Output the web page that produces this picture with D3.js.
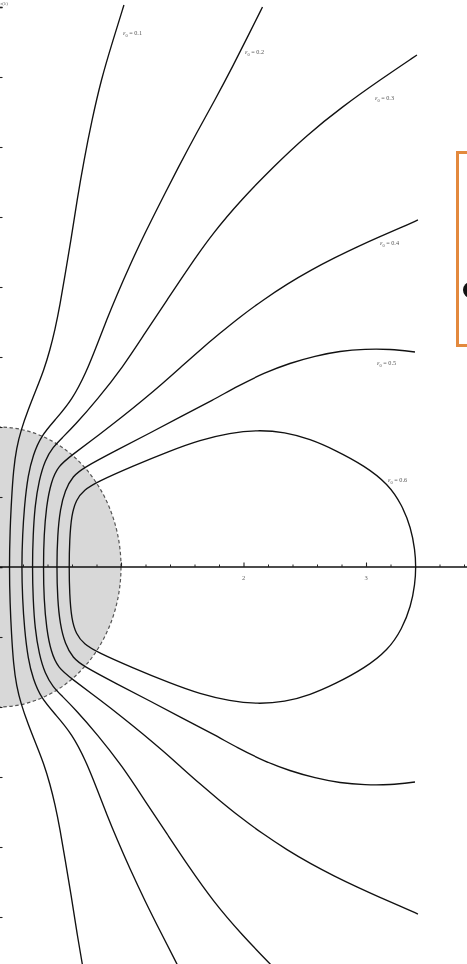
<!DOCTYPE html>
<html>
<head>
<meta charset="utf-8">
<script src="https://cdn.jsdelivr.net/npm/d3@7"></script>
<style>
  html, body { margin: 0; padding: 0; background: #fff; }
  svg { display: block; }
</style>
</head>
<body>
<div id="chart"></div>
<script>
// ---- data (data units) ----
const epsValues = ["0.1", "0.2", "0.3", "0.4", "0.5", "0.6"];

const curve01 = [[0.698,-2.907],[0.641,-2.621],[0.592,-2.336],[0.543,-2.086],[0.502,-1.871],[0.461,-1.693],[0.42,-1.55],[0.371,-1.407],[0.306,-1.264],[0.241,-1.121],[0.184,-0.979],[0.147,-0.85],[0.122,-0.693],[0.106,-0.479],[0.094,-0.264],
  [0.088,0],[0.094,0.264],[0.106,0.479],[0.122,0.693],[0.147,0.85],[0.184,0.979],[0.241,1.121],[0.306,1.264],[0.371,1.407],[0.42,1.55],[0.461,1.693],[0.502,1.871],[0.543,2.086],[0.592,2.336],[0.641,2.621],[0.698,2.907],[0.763,3.193],[0.837,3.479],[0.935,3.764],[1.024,4.014]];
const curve02 = [[1.465,-2.85],[1.331,-2.621],[1.196,-2.386],[1.073,-2.157],[0.966,-1.943],[0.882,-1.764],[0.804,-1.586],[0.714,-1.386],[0.6,-1.193],[0.469,-1.057],[0.347,-0.936],[0.282,-0.8],[0.241,-0.657],[0.212,-0.443],[0.196,-0.229],
  [0.189,0],[0.196,0.229],[0.212,0.443],[0.241,0.657],[0.282,0.8],[0.347,0.936],[0.469,1.057],[0.6,1.193],[0.714,1.386],[0.804,1.586],[0.882,1.764],[0.966,1.943],[1.073,2.157],[1.196,2.386],[1.331,2.621],[1.465,2.85],[1.612,3.093],[1.767,3.336],[1.914,3.579],[2.037,3.793],[2.155,4.0]];
const curve03 = [[2.241,-2.857],[1.98,-2.621],[1.751,-2.386],[1.555,-2.143],[1.376,-1.907],[1.196,-1.671],[1.016,-1.429],[0.804,-1.193],[0.624,-1.014],[0.518,-0.921],[0.445,-0.857],[0.38,-0.764],[0.331,-0.621],[0.298,-0.443],[0.282,-0.229],
  [0.276,0],[0.282,0.229],[0.298,0.443],[0.331,0.621],[0.38,0.764],[0.445,0.857],[0.518,0.921],[0.624,1.014],[0.804,1.193],[1.016,1.429],[1.196,1.671],[1.376,1.907],[1.555,2.143],[1.751,2.386],[1.98,2.621],[2.241,2.857],[2.518,3.086],[2.804,3.286],[3.114,3.479],[3.416,3.657]];
const curve04 = [[3.424,-2.479],[3.278,-2.421],[3.106,-2.357],[2.927,-2.286],[2.739,-2.207],[2.551,-2.121],[2.355,-2.021],[2.159,-1.907],[1.971,-1.786],[1.8,-1.664],[1.645,-1.55],[1.49,-1.429],[1.343,-1.314],[1.18,-1.193],[1.008,-1.071],[0.829,-0.95],[0.6,-0.8],[0.486,-0.721],[0.429,-0.607],[0.392,-0.443],[0.371,-0.229],
  [0.366,0],[0.371,0.229],[0.392,0.443],[0.429,0.607],[0.486,0.721],[0.6,0.8],[0.829,0.95],[1.008,1.071],[1.18,1.193],[1.343,1.314],[1.49,1.429],[1.645,1.55],[1.8,1.664],[1.971,1.786],[2.159,1.907],[2.355,2.021],[2.551,2.121],[2.739,2.207],[2.927,2.286],[3.106,2.357],[3.278,2.421],[3.424,2.479]];
const curve05 = [[3.4,-1.536],[3.196,-1.557],[2.992,-1.557],[2.788,-1.543],[2.584,-1.507],[2.38,-1.457],[2.167,-1.386],[1.955,-1.293],[1.751,-1.193],[1.498,-1.079],[1.237,-0.957],[0.967,-0.836],[0.69,-0.707],[0.608,-0.65],[0.543,-0.55],[0.502,-0.407],[0.482,-0.229],
  [0.475,0],[0.482,0.229],[0.502,0.407],[0.543,0.55],[0.608,0.65],[0.69,0.707],[0.967,0.836],[1.237,0.957],[1.498,1.079],[1.751,1.193],[1.955,1.293],[2.167,1.386],[2.38,1.457],[2.584,1.507],[2.788,1.543],[2.992,1.557],[3.196,1.557],[3.4,1.536]];
// closed loop (eps0 = 0.6)
const curve06 = [[3.408,0],[3.4,-0.121],[3.367,-0.279],[3.294,-0.443],[3.18,-0.593],[2.992,-0.721],[2.747,-0.836],[2.543,-0.914],[2.339,-0.964],[2.11,-0.979],[1.89,-0.957],[1.645,-0.907],[1.4,-0.829],[1.098,-0.721],[0.804,-0.607],[0.698,-0.55],[0.633,-0.479],[0.596,-0.371],[0.58,-0.193],
  [0.576,0],[0.58,0.193],[0.596,0.371],[0.633,0.479],[0.698,0.55],[0.804,0.607],[1.098,0.721],[1.4,0.829],[1.645,0.907],[1.89,0.957],[2.11,0.979],[2.339,0.964],[2.543,0.914],[2.747,0.836],[2.992,0.721],[3.18,0.593],[3.294,0.443],[3.367,0.279],[3.4,0.121]];
const openCurves = [curve01, curve02, curve03, curve04, curve05];
const closedCurves = [curve06];

// label anchors (data units)
const labelAnchors = [[1.016,3.80],[2.012,3.664],[3.073,3.336],[3.114,2.30],[3.09,1.443],[3.18,0.607]];

const xMajorTicks = [1, 2, 3];
const xMinorTicks = [0.2,0.4,0.6,0.8,1.2,1.4,1.6,1.8,2.2,2.4,2.6,2.8,3.2,3.4,3.6,3.8];
const xTickLabels = ["2", "3"];
const xTickLabelValues = [2, 3];
const yTicks = [-2.5,-2,-1.5,-1,-0.5,0.5,1,1.5,2,2.5,3,3.5,4];
const regionRadius = 1;

// ---- layout ----
const W = 467, H = 964;
const x = d3.scaleLinear().domain([0, 3.8]).range([-1.5, -1.5 + 3.8 * 122.5]);
const y = d3.scaleLinear().domain([0, 4]).range([567, 7]);

const svg = d3.select("#chart").append("svg")
  .attr("width", W).attr("height", H)
  .attr("viewBox", `0 0 ${W} ${H}`);
const defs = svg.append("defs");
defs.append("filter").attr("id", "gray")
  .append("feColorMatrix").attr("type", "saturate").attr("values", 0);
svg.append("rect").attr("width", W).attr("height", H).attr("fill", "#fff");

// shaded region (unit circle)
svg.append("ellipse")
  .attr("cx", x(0)).attr("cy", y(0))
  .attr("rx", x(regionRadius) - x(0)).attr("ry", y(0) - y(regionRadius))
  .attr("fill", "#d8d8d8")
  .attr("stroke", "#555")
  .attr("stroke-width", 1.2)
  .attr("stroke-dasharray", "3.5,2.5");

// x axis
const gx = svg.append("g").attr("transform", `translate(0,${y(0)})`);
gx.append("line").attr("x1", 0).attr("x2", W).attr("y1", 0).attr("y2", 0)
  .attr("stroke", "#111").attr("stroke-width", 1.4);
gx.call(g => {
  const minor = d3.axisTop(x).tickValues(xMinorTicks).tickSize(2.5).tickFormat("");
  const gm = g.append("g").call(minor);
  gm.select(".domain").remove();
  gm.selectAll("line").attr("stroke", "#222").attr("stroke-width", 1);
  const major = d3.axisTop(x).tickValues(xMajorTicks).tickSize(4.5).tickFormat("");
  const gM = g.append("g").call(major);
  gM.select(".domain").remove();
  gM.selectAll("line").attr("stroke", "#222").attr("stroke-width", 1.1);
});
const textLayer = svg.append("g").attr("filter", "url(#gray)");
textLayer.selectAll("text.xl").data(xTickLabelValues).join("text")
  .attr("class", "xl")
  .attr("x", d => x(d)).attr("y", y(0) + 13)
  .attr("text-anchor", "middle")
  .attr("font-family", "Liberation Serif, DejaVu Serif, serif")
  .attr("font-size", 6.5).attr("fill", "#666")
  .text((d, i) => xTickLabels[i]);

// y axis (just off left edge)
const gy = svg.append("g").attr("transform", `translate(${x(0)},0)`);
const yAxis = d3.axisRight(y).tickValues(yTicks).tickSize(4).tickFormat("");
gy.call(yAxis);
gy.select(".domain").attr("stroke", "#111").attr("stroke-width", 1.4);
gy.selectAll("line").attr("stroke", "#222").attr("stroke-width", 1.1);
textLayer.append("text").attr("x", 0.5).attr("y", 5)
  .attr("font-family", "Liberation Serif, DejaVu Serif, serif")
  .attr("font-size", 5).attr("fill", "#666").text("r(λ)");

// curves
const line = d3.line().x(d => x(d[0])).y(d => y(d[1])).curve(d3.curveBasis);
const loop = d3.line().x(d => x(d[0])).y(d => y(d[1])).curve(d3.curveBasisClosed);
const gc = svg.append("g").attr("fill", "none").attr("stroke", "#111").attr("stroke-width", 1.35)
  .attr("stroke-linejoin", "round");
gc.selectAll("path.open").data(openCurves).join("path").attr("class", "open").attr("d", line);
gc.selectAll("path.closed").data(closedCurves).join("path").attr("class", "closed").attr("d", loop);

// labels
const lbl = textLayer.append("g").selectAll("text").data(epsValues).join("text")
  .attr("x", (d, i) => x(labelAnchors[i][0]))
  .attr("y", (d, i) => y(labelAnchors[i][1]))
  .attr("font-family", "Liberation Serif, DejaVu Serif, serif")
  .attr("font-size", 6.2).attr("fill", "#555");
lbl.append("tspan").attr("font-style", "italic").text("ε");
lbl.append("tspan").attr("font-size", 4.5).attr("dy", 1.8).text("0");
lbl.append("tspan").attr("dy", -1.8).text(" = ");
lbl.append("tspan").text(d => d);

// orange annotation box at right edge
svg.append("rect").attr("x", 457.5).attr("y", 152.5).attr("width", 30).attr("height", 193)
  .attr("fill", "#fff").attr("stroke", "#e3893d").attr("stroke-width", 3);
svg.append("ellipse").attr("cx", 471).attr("cy", 290).attr("rx", 8).attr("ry", 8).attr("fill", "#111");
</script>
</body>
</html>
